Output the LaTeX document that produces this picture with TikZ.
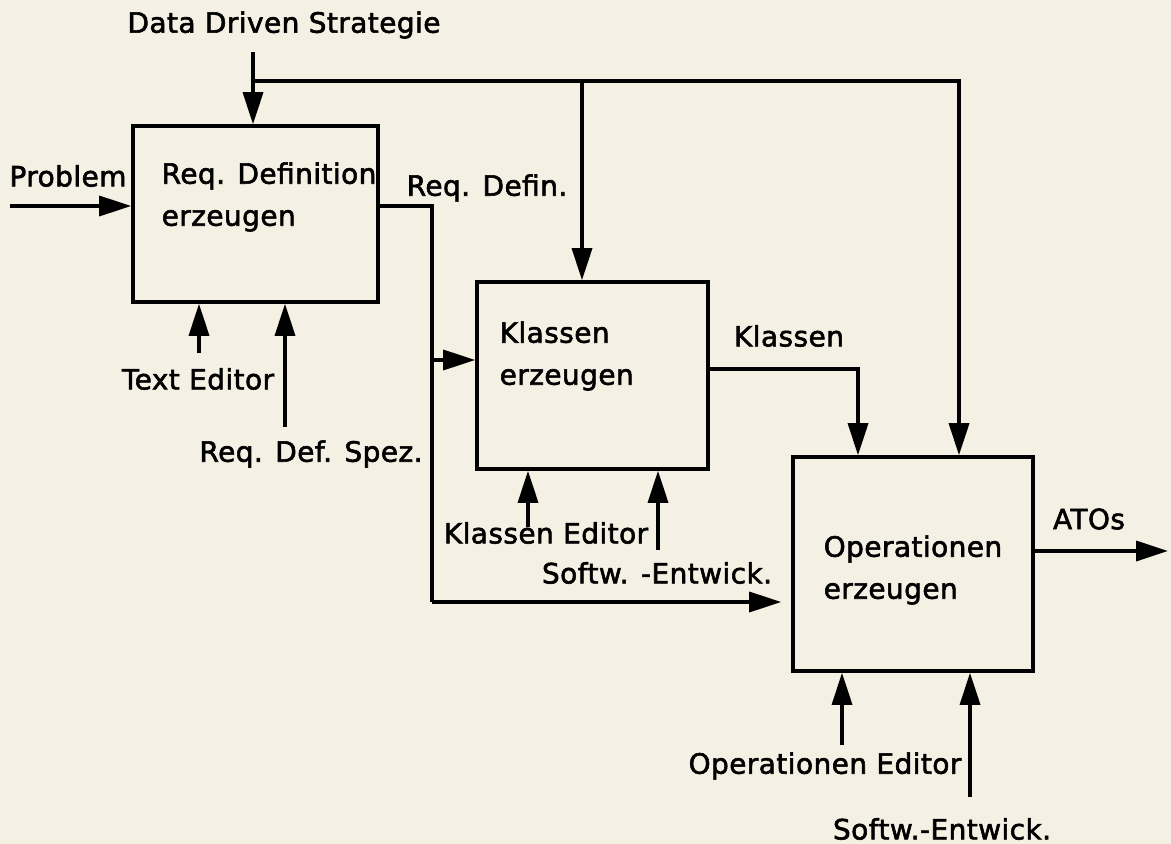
\documentclass[tikz,border=0pt]{standalone}
\usepackage{fontspec}
\setmainfont{DejaVu Sans}[LetterSpace=1.5,FakeBold=2]
\usetikzlibrary{arrows.meta}
\definecolor{paper}{HTML}{F4F0E3}
\begin{document}
\begin{tikzpicture}[x=0.5pt,y=-0.5pt,
  line width=1.7pt,
  flow/.style={draw=black,-{Triangle[length=16pt,width=10pt]}},
  wire/.style={draw=black},
  procbox/.style={draw=black,line width=1.8pt,inner sep=0pt},
  lbl/.style={inner sep=0pt,font=\fontsize{14}{21}\selectfont},
  boxtext/.style={inner sep=0pt,align=left,anchor=west,font=\fontsize{14}{21}\selectfont}]
\fill[paper] (0,0) rectangle (1171,844);
\useasboundingbox (0,0) rectangle (1171,844);

% boxes
\node[procbox,minimum width=122.5pt,minimum height=88pt] (b1) at (255.5,214) {};
\node[procbox,minimum width=115.5pt,minimum height=93.5pt] (b2) at (592.5,375.5) {};
\node[procbox,minimum width=120pt,minimum height=107pt] (b3) at (913,564) {};

\node[boxtext] (t1) at (160,197) {Req. Definition\\erzeugen};
\node[boxtext] (t2) at (498,356) {Klassen\\erzeugen};
\node[boxtext] (t3) at (822,570) {Operationen\\erzeugen};

% coordinates
\coordinate (dd) at (253,52);
\coordinate (ddj) at (253,81);
\coordinate (ddk) at (582,81);
\coordinate (ddo) at (959,81);
\coordinate (pr) at (10,206);
\coordinate (rdc) at (432,206);
\coordinate (rdk) at (432,360);
\coordinate (rdo) at (432,602);
\coordinate (kc) at (858,369);
\coordinate (te) at (199,353);
\coordinate (rs) at (285,427);
\coordinate (ke) at (528,527);
\coordinate (se1) at (658,550);
\coordinate (oe) at (842,745);
\coordinate (se2) at (970,797);
\coordinate (atos) at (1168,551);

% labels
\node[lbl] (ldd) at (284,25) {Data Driven Strategie};
\node[lbl] (lpr) at (68,176) {Problem};
\node[lbl] (lrd) at (487,188) {Req. Defin.};
\node[lbl] (lkl) at (789,336) {Klassen};
\node[lbl] (lte) at (198,379) {Text Editor};
\node[lbl] (lrs) at (311,454) {Req. Def. Spez.};
\node[lbl] (lke) at (546,533) {Klassen Editor};
\node[lbl] (lse1) at (657,573) {Softw. -Entwick.};
\node[lbl] (loe) at (825,766) {Operationen Editor};
\node[lbl] (lse2) at (942,829) {Softw.-Entwick.};
\node[lbl] (lat) at (1089,519) {ATOs};

% connectors
\draw[flow] (dd) -- (dd |- b1.north);
\draw[flow] (ddj) -- (ddo) -- (ddo |- b3.north);
\draw[flow] (ddk) -- (ddk |- b2.north);
\draw[flow] (pr) -- (pr -| b1.west);
\draw[wire] (rdc -| b1.east) -- (rdc) -- (rdo);
\draw[flow] (rdk) -- (rdk -| b2.west);
\draw[flow] (rdo) -- ([xshift=-5pt]rdo -| b3.west);
\draw[flow] (kc -| b2.east) -- (kc) -- (kc |- b3.north);
\draw[flow] (te) -- (te |- b1.south);
\draw[flow] (rs) -- (rs |- b1.south);
\draw[flow] (ke) -- (ke |- b2.south);
\draw[flow] (se1) -- (se1 |- b2.south);
\draw[flow] (oe) -- (oe |- b3.south);
\draw[flow] (se2) -- (se2 |- b3.south);
\draw[flow] (atos -| b3.east) -- (atos);
\end{tikzpicture}
\end{document}
